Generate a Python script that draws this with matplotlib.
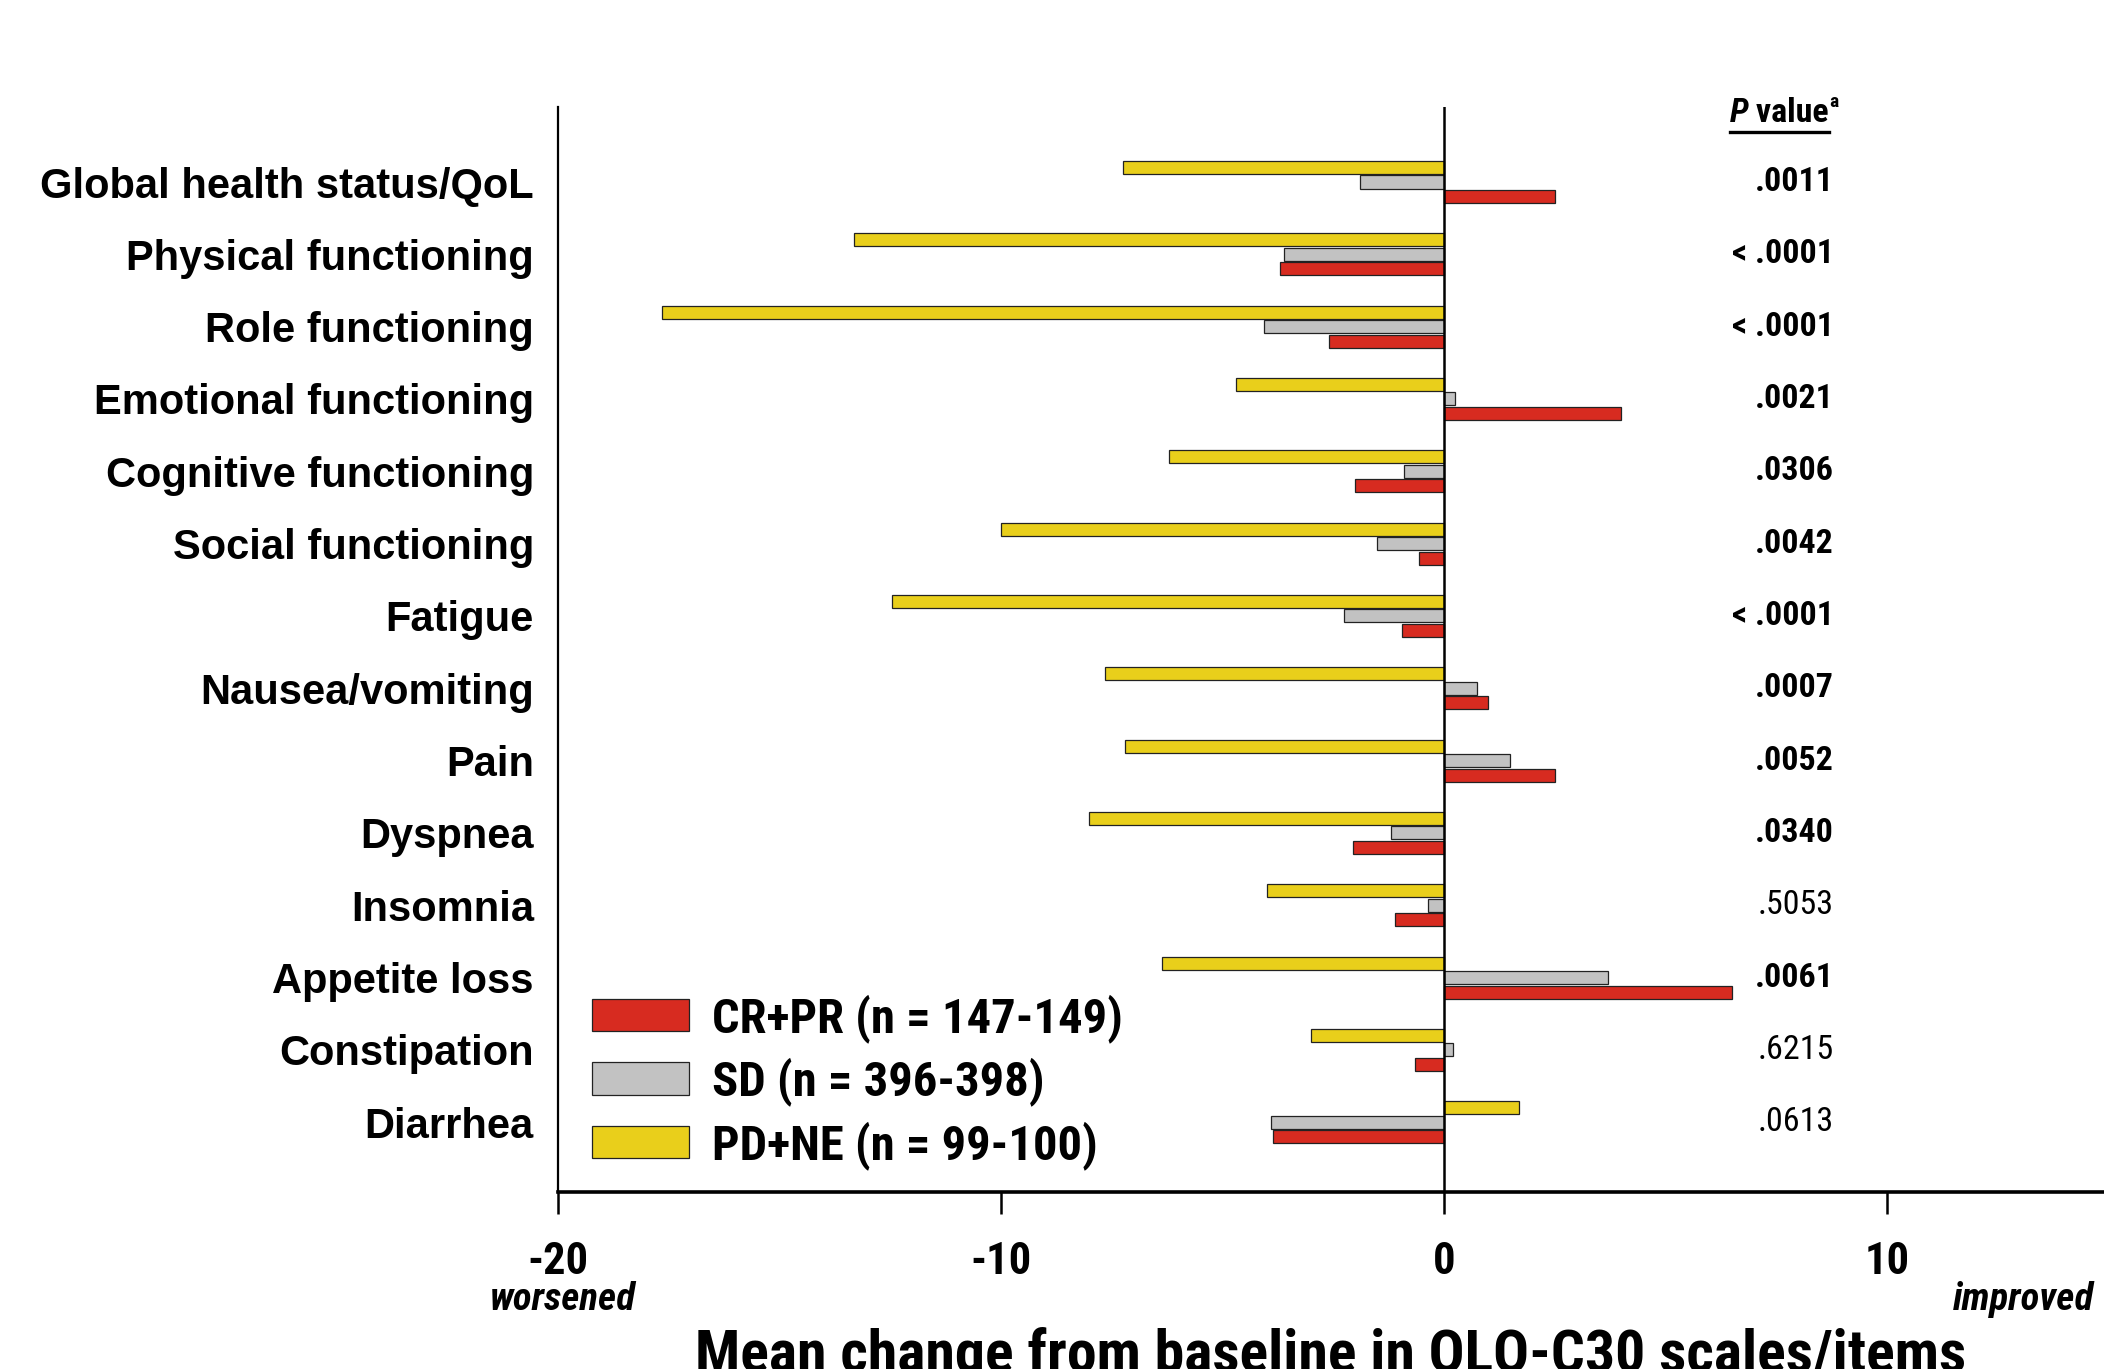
import numpy as np
import matplotlib
matplotlib.use("Agg")
import matplotlib.pyplot as plt
from matplotlib import font_manager
from matplotlib.lines import Line2D


CATEGORIES = [
    "Global health status/QoL",
    "Physical functioning",
    "Role functioning",
    "Emotional functioning",
    "Cognitive functioning",
    "Social functioning",
    "Fatigue",
    "Nausea/vomiting",
    "Pain",
    "Dyspnea",
    "Insomnia",
    "Appetite loss",
    "Constipation",
    "Diarrhea",
]

CR_PR = [2.5, -3.7, -2.6, 4.0, -2.0, -0.55, -0.95, 1.0, 2.5, -2.05, -1.1, 6.5, -0.65, -3.85]
SD = [-1.9, -3.6, -4.05, 0.25, -0.9, -1.5, -2.25, 0.75, 1.5, -1.2, -0.35, 3.7, 0.2, -3.9]
PD_NE = [-7.25, -13.3, -17.65, -4.7, -6.2, -10.0, -12.45, -7.65, -7.2, -8.0, -4.0, -6.35, -3.0, 1.7]

P_VALUES = [".0011", "< .0001", "< .0001", ".0021", ".0306", ".0042", "< .0001",
            ".0007", ".0052", ".0340", ".5053", ".0061", ".6215", ".0613"]
P_BOLD = [True, True, True, True, True, True, True, True, True, True, False, True, False, False]

SERIES_LABELS = ["CR+PR (n = 147-149)", "SD (n = 396-398)", "PD+NE (n = 99-100)"]
COLORS = {
    "CR+PR": "#D72B20",
    "SD": "#C2C2C2",
    "PD+NE": "#E9CF1B",
}


def pick_font(names):
    for name in names:
        try:
            font_manager.findfont(font_manager.FontProperties(family=name),
                                  fallback_to_default=False)
            return name
        except ValueError:
            continue
    return "DejaVu Sans"


WIDE = pick_font(["Liberation Sans", "Arial", "DejaVu Sans"])
NARROW = pick_font(["Liberation Sans Narrow", "Roboto Condensed", "Liberation Sans"])

W, H = 2104, 1369
fig = plt.figure(figsize=(W / 100, H / 100), dpi=100)
fig.patch.set_facecolor("white")
ax = fig.add_axes([0.265, 0.129, 0.735, 0.793])

y = np.arange(len(CATEGORIES))
bar_h = 0.18
edge = dict(edgecolor="#222222", linewidth=0.9)

bars_pd = ax.barh(y - 0.2, PD_NE, height=bar_h, color=COLORS["PD+NE"], **edge)
bars_sd = ax.barh(y, SD, height=bar_h, color=COLORS["SD"], **edge)
bars_cr = ax.barh(y + 0.2, CR_PR, height=bar_h, color=COLORS["CR+PR"], **edge)

ax.axvline(0, color="black", linewidth=1.8, zorder=3)

ax.set_xlim(-20, 14.9)
ax.set_ylim(13.97, -1.04)

# --- spines / ticks
for side in ["top", "right"]:
    ax.spines[side].set_visible(False)
ax.spines["left"].set_linewidth(1.6)
ax.spines["bottom"].set_linewidth(2.6)

ax.set_xticks([-20, -10, 0, 10])
ax.set_xticklabels(["-20", "-10", "0", "10"], fontfamily=NARROW,
                   fontweight="bold", fontsize=32)
ax.tick_params(axis="x", length=16, width=1.8, pad=19, direction="out")

ax.set_yticks(y)
ax.set_yticklabels(CATEGORIES, fontfamily=WIDE, fontweight="bold", fontsize=30)
ax.tick_params(axis="y", length=0, pad=17)

ax.set_xlabel("Mean change from baseline in QLQ-C30 scales/items",
              fontfamily=NARROW, fontweight="bold", fontsize=43)
ax.xaxis.set_label_coords(0.5, -0.124)

fig.text(563 / W, 1 - 1299 / H, "worsened", ha="center", va="center",
         fontfamily=NARROW, fontweight="bold", style="italic", fontsize=28)
fig.text(2094 / W, 1 - 1299 / H, "improved", ha="right", va="center",
         fontfamily=NARROW, fontweight="bold", style="italic", fontsize=28)

# --- P values column
for i, (p, bold) in enumerate(zip(P_VALUES, P_BOLD)):
    ax.text(8.8, i, p, ha="right", va="center", fontfamily=NARROW,
            fontweight="bold" if bold else "normal", fontsize=24.5, clip_on=False)

t1 = ax.text(6.45, -0.96, "P", ha="left", va="center", fontfamily=NARROW,
             fontweight="bold", style="italic", fontsize=24.5, clip_on=False)
t2 = ax.annotate(" value", xy=(1, 0), xycoords=t1, ha="left", va="bottom",
                 fontfamily=NARROW, fontweight="bold", fontsize=24.5)
t3 = ax.annotate("a", xy=(1, 0.55), xycoords=t2, ha="left", va="bottom",
                 fontfamily=NARROW, fontweight="bold", fontsize=14)

# --- legend
ax.legend(
    [bars_cr, bars_sd, bars_pd],
    SERIES_LABELS,
    loc="upper left",
    bbox_to_anchor=(592 / W, 1 - 994 / H),
    bbox_transform=fig.transFigure,
    frameon=False,
    borderpad=0,
    borderaxespad=0,
    handlelength=2.0,
    handleheight=0.66,
    handletextpad=0.47,
    labelspacing=0.3,
    prop={"family": NARROW, "weight": "bold", "size": 35},
)

# underline under the P value header
fig.canvas.draw()
bb1 = t1.get_window_extent()
bb2 = t2.get_window_extent()
uy = bb1.y0 - 3
fig.add_artist(Line2D([bb1.x0 / W, bb2.x1 / W], [uy / H, uy / H],
                      transform=fig.transFigure, color="black", linewidth=2.4))

fig.savefig("out.png", dpi=100, facecolor="white")
plt.close(fig)
